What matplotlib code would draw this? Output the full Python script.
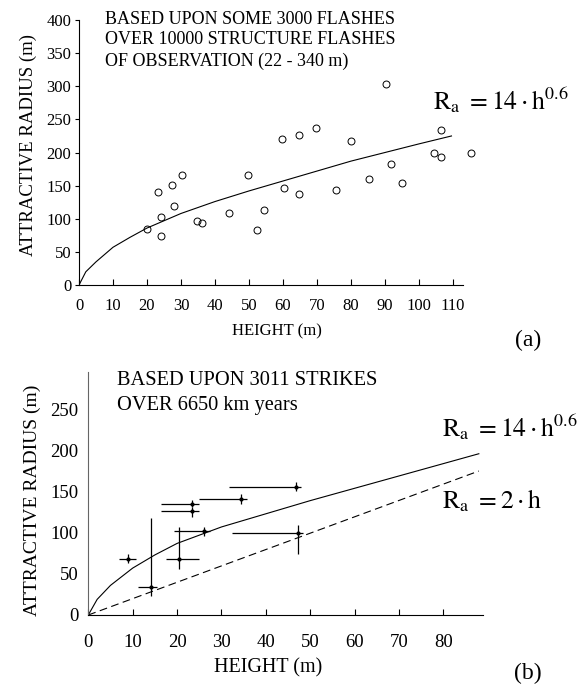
import matplotlib.pyplot as plt
import numpy as np

plt.rcParams['font.family'] = ['Liberation Serif', 'DejaVu Serif']
plt.rcParams['mathtext.fontset'] = 'stix'

# (a) observed structure flashes
flash_h = [19.9, 23.1, 24.1, 24.0, 27.4, 27.9, 30.2, 34.8, 36.3, 44.2, 49.8, 52.4, 54.4, 59.6,
           60.2, 64.6, 64.6, 69.7, 75.5, 79.9, 85.4, 90.3, 91.9, 95.0, 104.5, 106.5, 106.6, 115.3]
flash_r = [84, 140, 102, 74, 151, 120, 166, 96, 93, 108, 166, 83, 114, 221,
           147, 226, 138, 237, 144, 218, 160, 304, 182, 154, 200, 234, 193, 200]
# fitted curve Ra = 14 h^0.6, as drawn
fit_a_h = [0, 2, 5, 10, 15, 20, 30, 40, 50, 60, 70, 80, 90, 100, 109.6]
fit_a_r = [0, 20, 35, 57, 72, 86, 108, 126, 142, 157, 172, 187, 200, 213, 225]

# (b) strikes with error bars
strike_h = [9.0, 14.1, 20.5, 23.4, 23.3, 26.1, 34.5, 46.9, 47.2]
strike_r = [67.6, 34.4, 68.4, 135.5, 125.8, 102.0, 140.8, 155.0, 99.1]
h_lo = [7.0, 11.3, 17.4, 16.4, 16.4, 19.3, 24.9, 31.8, 32.4]
h_hi = [10.7, 15.4, 25.0, 25.0, 25.0, 27.4, 35.8, 47.9, 48.3]
r_lo = [62.7, 23.4, 55.5, 131.4, 118.6, 95.9, 134.7, 150.9, 74.0]
r_hi = [74.0, 118.0, 107.0, 139.6, 130.7, 107.0, 146.8, 161.8, 109.0]
fit_b_h = [0, 2, 5, 10, 15, 20, 30, 40, 50, 60, 70, 80, 88]
fit_b_r = [0, 19, 36, 57, 73, 87, 107, 123, 139, 154, 169, 184, 196]
line_b_h = [0, 88]
line_b_r = [0, 175]

fig = plt.figure(figsize=(5.87, 6.86), dpi=100)

# ---- (a)
ax1 = fig.add_axes([0.1346, 0.5845, 0.6542, 0.3863])
ax1.plot(fit_a_h, fit_a_r, color='k', lw=0.8)
ax1.plot(flash_h, flash_r, 'o', mfc='none', mec='k', ms=5, mew=0.7, clip_on=False)
ax1.set_xlim(0, 113)
ax1.set_ylim(0, 400)
ax1.set_xticks(np.arange(0, 111, 10))
ax1.set_yticks(np.arange(0, 401, 50))
ax1.spines[['top', 'right']].set_visible(False)
ax1.tick_params(axis='x', direction='in', length=4, pad=9, labelsize=12)
ax1.tick_params(axis='y', direction='out', length=3, pad=2.5, labelsize=12)
ax1.set_xlabel('HEIGHT (m)', fontsize=12, va='center')
ax1.xaxis.set_label_coords(0.5156, -0.175)
ax1.set_ylabel('ATTRACTIVE RADIUS (m)', fontsize=13.5, va='center')
ax1.yaxis.set_label_coords(-0.133, 0.528)

for i, line in enumerate(['BASED UPON SOME 3000 FLASHES',
                          'OVER 10000 STRUCTURE FLASHES',
                          'OF OBSERVATION (22 - 340 m)']):
    fig.text(0.179, 1 - (19 + 21 * i) / 686, line, fontsize=13, va='center', ha='left')
fig.text(433 / 587, 1 - 100 / 686, r'$\mathrm{R}_{\mathrm{a}}\ = 14\cdot\mathrm{h}^{0.6}$',
         fontsize=18.5, va='center', ha='left')
fig.text(528 / 587, 1 - 340 / 686, '(a)', fontsize=17, ha='center', va='center')

# ---- (b)
ax2 = fig.add_axes([0.1504, 0.1035, 0.6729, 0.3538])
ax2.plot(fit_b_h, fit_b_r, color='k', lw=0.8)
ax2.plot(line_b_h, line_b_r, color='k', lw=0.8, dashes=(7, 4))
xerr = [np.subtract(strike_h, h_lo), np.subtract(h_hi, strike_h)]
yerr = [np.subtract(strike_r, r_lo), np.subtract(r_hi, strike_r)]
ax2.errorbar(strike_h, strike_r, xerr=xerr, yerr=yerr, fmt='.', color='k', ms=4,
             elinewidth=0.9, capsize=0)
ax2.set_xlim(0, 89)
ax2.set_ylim(0, 295)
ax2.set_xticks(np.arange(0, 81, 10))
ax2.set_yticks(np.arange(0, 251, 50))
ax2.spines[['top', 'right']].set_visible(False)
ax2.spines['left'].set_color('#666666')
ax2.tick_params(axis='x', direction='in', length=4, pad=14, labelsize=13.5)
ax2.tick_params(axis='y', length=0, pad=7, labelsize=13.5)
ax2.set_xlabel('HEIGHT (m)', fontsize=14.5, va='center')
ax2.xaxis.set_label_coords(0.455, -0.218)
ax2.set_ylabel('ATTRACTIVE RADIUS (m)', fontsize=14, va='center')
ax2.yaxis.set_label_coords(-0.1425, 0.474)

fig.text(116.7 / 587, 1 - 380 / 686, 'BASED UPON 3011 STRIKES', fontsize=14.7, va='center')
fig.text(116.7 / 587, 1 - 405 / 686, 'OVER 6650 km years', fontsize=14.7, va='center')
fig.text(441.7 / 587, 1 - 427 / 686, r'$\mathrm{R}_{\mathrm{a}}\ = 14\cdot\mathrm{h}^{0.6}$',
         fontsize=18.5, va='center', ha='left')
fig.text(441.7 / 587, 1 - 501 / 686, r'$\mathrm{R}_{\mathrm{a}}\ = 2\cdot\mathrm{h}$',
         fontsize=18.5, va='center', ha='left')
fig.text(528 / 587, 1 - 673 / 686, '(b)', fontsize=17, ha='center', va='center')

fig.savefig('out.png', dpi=100)
